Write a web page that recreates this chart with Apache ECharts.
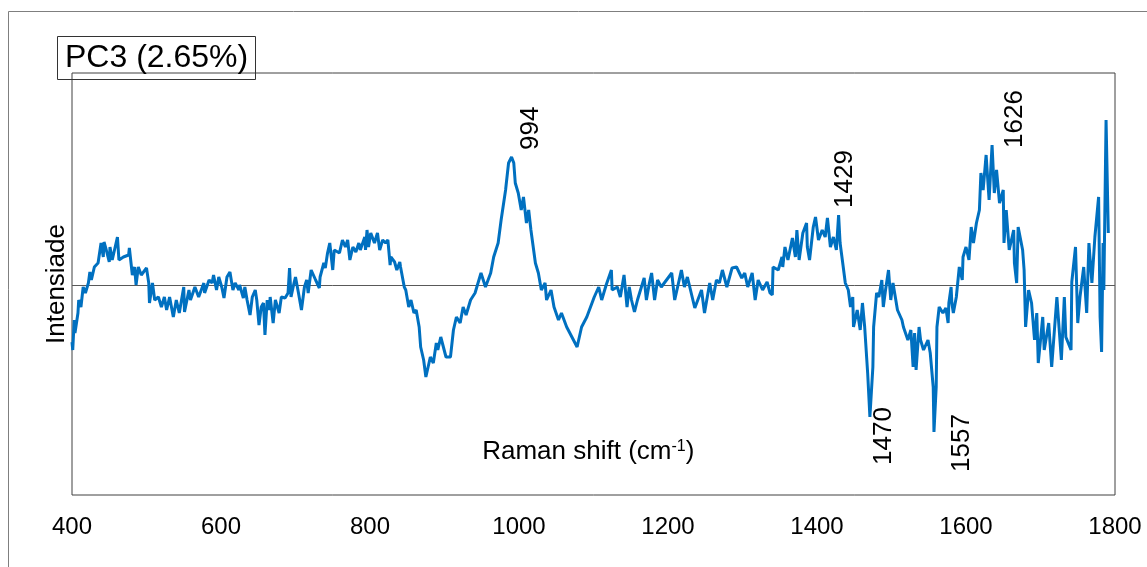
<!DOCTYPE html>
<html><head><meta charset="utf-8">
<script src="https://cdn.jsdelivr.net/npm/echarts@6/dist/echarts.min.js"></script>
<style>html,body{margin:0;padding:0;background:#fff}#c{width:1147px;height:567px}</style>
</head><body><div id="c"></div>
<script>
// Raman shift (cm-1)
const ramanShift = [
400,401,403,404,408,409,412,415,418,422,423,424,426,430,435,436,439,442,443,446,
450,451,454,461,463,469,476,477,481,484,486,489,493,500,503,504,508,511,516,520,
524,527,531,536,540,544,550,551,557,559,565,570,577,578,584,588,590,594,597,601,
604,608,612,616,619,624,625,630,632,635,
639,642,646,648,651,654,657,659,662,665,666,670,673,678,681,686,690,692,694,698,
700,704,708,712,715,717,721,727,732,733,738,740,743,746,750,752,759,763,767,770,
773,777,781,785,787,793,794,796,798,801,806,810,813,817,821,824,827,828,833,836,
840,841,846,848,852,855,859,862,866,868,872,875,
881,885,889,891,895,902,908,912,916,921,925,929,935,941,949,955,962,966,972,976,
982,983,986,990,993,995,999,1003,1006,1010,1013,1016,1022,1026,1030,1035,1037,1043,1047,1053,
1057,1064,1071,1078,1084,1091,1101,
1107,1111,1117,1124,1125,1132,1136,1141,1145,1148,1151,1155,1159,1168,1171,1175,1178,1182,1186,1191,
1205,1209,1218,1222,1226,1236,1240,1245,1249,1256,1260,1265,1269,1273,1279,1286,1292,1299,1303,1307,
1313,1317,1321,1327,1333,1337,1340,
1341,1348,1353,1354,1357,1361,1367,1371,1373,1376,1381,1386,1387,1390,1395,1398,1402,1407,1411,1414,
1418,1422,1426,1429,1431,1434,1438,1442,1445,1448,1449,1454,1458,1461,1464,1468,1471,1475,1476,1480,
1483,1487,1489,1492,1496,1499,1502,1508,1514,1516,1522,1526,1529,1531,1533,1537,1539,1543,1549,1552,
1556,1557,1560,1561,1564,1569,1573,1576,1577,1580,
1581,1583,1587,1591,1595,1596,1600,1604,1607,1610,1614,1618,1620,1623,1627,1631,1635,1638,1641,1645,
1650,1651,1654,1658,1664,1665,1668,1670,1676,1678,1680,1684,1688,1692,1695,1697,1703,1705,1711,1715,
1722,1728,1732,1734,1741,1742,1747,1750,1753,1758,1762,1765,1769,1773,1778,1780,1782,1784,1785,1788,1791
];
// PC3 loading (arbitrary units)
const intensity = [
-57,-65,-35,-48,-28,-15,-22,-2,-8,2,0,13,5,18,22,23,42,28,43,35,
23,38,25,48,25,28,30,37,10,18,0,18,10,17,2,-18,2,-15,-12,-22,
-12,-25,-12,-32,-15,-28,-2,-27,-5,-15,-2,-12,2,-8,5,2,10,-5,8,-2,
-13,8,13,-5,2,-5,0,-13,-2,-15,
-30,-12,-5,-15,-40,-22,-18,-50,-15,-25,-12,-38,-15,-28,-12,-13,-8,17,-12,2,
8,-8,-25,-2,5,-8,15,5,-3,8,22,17,32,42,15,35,32,45,38,45,
25,38,33,42,35,48,35,55,38,52,42,52,35,45,42,45,20,28,23,15,
23,18,-2,-5,-22,-15,-28,-25,-42,-62,-75,-92,
-72,-78,-58,-65,-52,-72,-72,-45,-32,-38,-22,-30,-15,-8,12,-2,12,28,42,65,
95,102,122,128,122,102,92,75,88,62,75,55,22,12,-5,2,-15,-5,-22,-35,
-28,-42,-52,-62,-42,-32,-12,
-2,-15,0,15,-5,-2,-12,10,-22,-2,-15,-27,-15,7,-15,2,12,-15,5,-2,
12,-15,15,-2,8,-23,-15,-5,-28,2,-15,5,2,15,-2,17,18,7,12,-2,
12,-15,5,-5,3,-8,-10,
18,15,28,18,38,25,47,28,55,25,52,62,38,25,58,68,45,55,48,67,
38,48,35,70,42,25,2,-5,-22,-12,-42,-25,-45,-18,-42,-88,-132,-82,-42,-8,
-12,5,-22,-5,15,-15,2,-25,-35,-42,-55,-45,-82,-48,-85,-42,-55,-65,-55,-68,
-102,-147,-102,-42,-22,-28,-23,-38,-18,-2,
-18,-28,-12,18,5,28,38,25,58,42,62,75,112,95,130,85,140,92,115,82,
95,42,75,35,55,22,2,58,35,15,-42,-5,-18,-55,-28,-78,-32,-65,-38,-82,
-12,-75,-12,-52,-65,3,38,-38,-12,18,-28,42,2,48,88,-32,-67,42,-5,165,52
];
const xTickValues = [400, 600, 800, 1000, 1200, 1400, 1600, 1800];
const peakLabels = ['994', '1429', '1626', '1470', '1557'];
const peakShift = [994, 1429, 1626, 1470, 1557];
const peakValue = [128, 70, 140, -132, -147];
const titleText = 'PC3 (2.65%)';
const yName = 'Intensiade';
const xNameText = 'Raman shift (cm{sup|-1})';
const xNameAnchor = [1093, -167];

// label placement (style only, pixels relative to the marked point)
const labelOffsets = [[16, -7], [6, -7], [29, 3], [15, 48], [28, 40]];

const FONT = "'Liberation Sans', Arial, sans-serif";
const chart = echarts.init(document.getElementById('c'), null, {renderer: 'canvas'});
const seriesData = ramanShift.map((x, i) => [x, intensity[i]]);

chart.setOption({
  animation: false,
  backgroundColor: '#fff',
  title: {
    text: titleText, left: 57, top: 36,
    borderColor: '#333', borderWidth: 1, padding: [4, 8, 4, 8],
    textStyle: {fontFamily: FONT, fontSize: 32, fontWeight: 'normal', color: '#000', lineHeight: 36}
  },
  grid: {left: 72, right: 32, top: 73, bottom: 72, show: true, borderColor: '#404040', borderWidth: 1, backgroundColor: 'transparent'},
  xAxis: {
    type: 'value', min: 400, max: 1800, interval: 200,
    axisLine: {show: false}, axisTick: {show: false}, splitLine: {show: false},
    axisLabel: {fontFamily: FONT, fontSize: 24, color: '#000', margin: 20,
      formatter: v => (xTickValues.indexOf(v) >= 0 ? String(v) : '')}
  },
  yAxis: {
    type: 'value', min: -210, max: 212,
    name: yName, nameLocation: 'middle', nameGap: 2, nameRotate: 90,
    nameTextStyle: {fontFamily: FONT, fontSize: 26, color: '#000'},
    axisLine: {show: false}, axisTick: {show: false}, splitLine: {show: false}, axisLabel: {show: false}
  },
  series: [{
    type: 'line', data: seriesData, showSymbol: false, symbol: 'none',
    lineStyle: {color: '#0070C0', width: 3}, z: 3,
    markLine: {
      silent: true, symbol: ['none', 'none'], label: {show: false},
      lineStyle: {color: '#595959', width: 1, type: 'solid'},
      data: [{yAxis: 0}], z: 2
    }
  }]
});

// annotation texts placed through the chart's own scales
const extra = [{
  type: 'rect', shape: {x: 8.5, y: 11.5, width: 1300, height: 700},
  style: {fill: 'none', stroke: '#7f7f7f', lineWidth: 1}, silent: true, z: -1
}];
peakLabels.forEach((t, i) => {
  const p = chart.convertToPixel({gridIndex: 0}, [peakShift[i], peakValue[i]]);
  extra.push({
    type: 'text', x: p[0] + labelOffsets[i][0], y: p[1] + labelOffsets[i][1], rotation: Math.PI / 2,
    style: {text: t, fontFamily: FONT, fontSize: 26, fill: '#000', align: 'left', verticalAlign: 'middle'},
    silent: true, z: 10
  });
});
const nameP = chart.convertToPixel({gridIndex: 0}, xNameAnchor);
extra.push({
  type: 'text', x: nameP[0], y: nameP[1], silent: true, z: 10,
  style: {
    text: xNameText, fontFamily: FONT, fontSize: 26, fill: '#000',
    align: 'center', verticalAlign: 'middle',
    rich: {sup: {fontFamily: FONT, fontSize: 16, verticalAlign: 'top', lineHeight: 16, fill: '#000'}}
  }
});
chart.setOption({graphic: extra});
</script>
</body></html>
